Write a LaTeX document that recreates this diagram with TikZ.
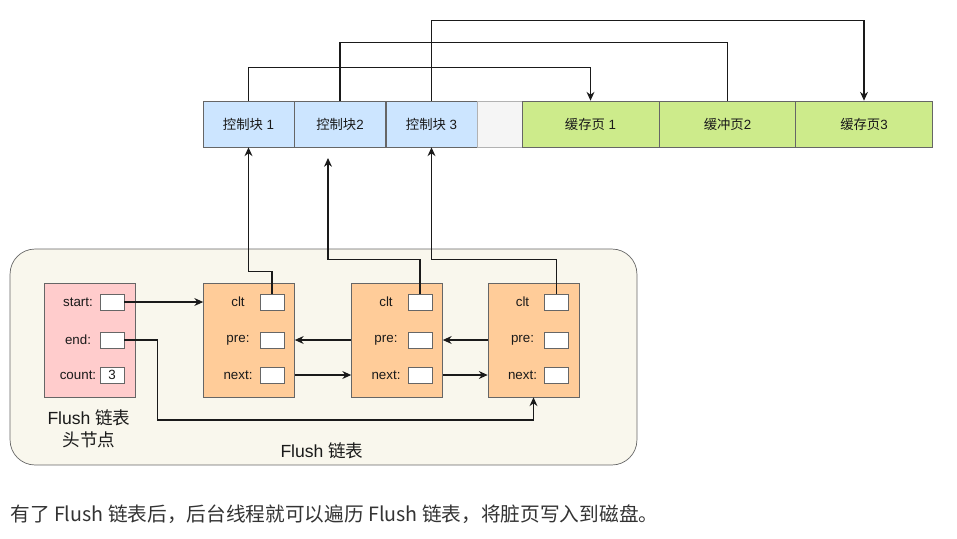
\documentclass[tikz,border=0pt]{standalone}
\usepackage{fontspec}
\setmainfont{Liberation Sans}
\newfontfamily\cjk{Noto Sans CJK SC}
\usetikzlibrary{arrows.meta,positioning}
\definecolor{ctlblue}{HTML}{CCE5FF}
\definecolor{pagegreen}{HTML}{CDEB8B}
\definecolor{gapgray}{HTML}{F5F5F5}
\definecolor{headpink}{HTML}{FFCCCC}
\definecolor{nodeorange}{HTML}{FFCC99}
\definecolor{cream}{HTML}{F9F7ED}
\definecolor{linegray}{HTML}{666666}
\definecolor{wirecol}{HTML}{1A1A1A}
\definecolor{capgray}{HTML}{333333}

\tikzset{
  cblock/.style={draw=linegray,fill=ctlblue,minimum width=1.82cm,minimum height=0.92cm,inner sep=0pt},
  cpage/.style={draw=linegray,fill=pagegreen,minimum width=2.74cm,minimum height=0.92cm,inner sep=0pt},
  lnode/.style={draw=linegray,minimum width=1.82cm,minimum height=2.28cm,inner sep=0pt},
  slot/.style={draw=linegray,fill=white,minimum width=0.48cm,minimum height=0.32cm,inner sep=0pt},
  wire/.style={->,line width=0.6pt,draw=wirecol},
  bigtext/.style={font=\fontsize{10}{12.5}\selectfont,align=center},
}

\begin{document}
\begin{tikzpicture}[x=0.02cm,y=-0.02cm,>={Stealth[length=5pt,width=4.5pt]},every node/.style={font=\fontsize{7.6}{9}\selectfont,text=wirecol}]
\useasboundingbox (0,0) rectangle (957,538);

% buffer pool: control blocks and cache pages
\node[cblock] (cb1) at (248.5,124) {{\cjk 控制块} 1};
\node[cblock] (cb2) at (340,124) {{\cjk 控制块}2};
\node[cblock] (cb3) at (431.5,124) {{\cjk 控制块} 3};
\node[draw=gray!60,fill=gapgray,minimum width=0.9cm,minimum height=0.92cm] (gap) at (499.5,124) {};
\node[cpage] (pg1) at (590.5,124) {{\cjk 缓存页} 1};
\node[cpage] (pg2) at (727.5,124) {{\cjk 缓冲页}2};
\node[cpage] (pg3) at (864,124) {{\cjk 缓存页}3};

\draw[wire] (cb1.north) -- ++(0,-33) -| (pg1.north);
\draw[line width=0.6pt,draw=wirecol] (cb2.north) -- ++(0,-58) -| (pg2.north);
\draw[wire] (cb3.north) -- ++(0,-80) -| (pg3.north);

% flush list
\node[draw=linegray,fill=cream,rounded corners=0.5cm,minimum width=12.54cm,minimum height=4.32cm] (flist) at (323.5,357) {};
\node[bigtext] (flbl) at (322,451) {Flush {\cjk 链表}};

% head node
\node[lnode,fill=headpink] (head) at (89.5,340) {};
\node (lstart) at (78,302) {start:};
\node[slot] (hstart) at (112,302) {};
\node (lend) at (78,340) {end:};
\node[slot] (hend) at (112,340) {};
\node (lcount) at (78,375) {count:};
\node[slot] (hcount) at (112,375) {3};
\node[bigtext] (hlbl) at (89,429) {Flush {\cjk 链表}\\{\cjk 头节点}};

% list nodes
\foreach \n/\x in {n1/249,n2/397,n3/533.5}{
  \node[lnode,fill=nodeorange] (\n) at (\x,340) {};
  \node at (\x-11,302) {clt};
  \node[slot] (\n clt) at (\x+23,302) {};
  \node at (\x-11,340) {pre:};
  \node[slot] (\n pre) at (\x+23,340) {};
  \node at (\x-11,375) {next:};
  \node[slot] (\n next) at (\x+23,375) {};
}

\draw[wire] (hstart.east) -- (hstart -| n1.west);
\draw[wire] (hend.east) -- ++(33,0) -- ++(0,80) -| (n3.south);
\draw[wire] (n1next -| n1.east) -- (n1next -| n2.west);
\draw[wire] (n2next -| n2.east) -- (n2next -| n3.west);
\draw[wire] (n2pre -| n2.west) -- (n2pre -| n1.east);
\draw[wire] (n3pre -| n3.west) -- (n3pre -| n2.east);

% clt pointers up to the control blocks
\coordinate (cb2tip) at (328,158);
\draw[wire] (n1clt.north) -- ++(0,-22) -| (cb1.south);
\draw[wire] (n2clt.north) -- ++(0,-34) -| (cb2tip);
\draw[wire] (n3clt.north) -- ++(0,-34) -| (cb3.south);

% caption
\node[anchor=west,font=\cjk\fontsize{11.2}{13}\selectfont,text=capgray,inner sep=0pt] (cap) at (10,514) {有了 Flush 链表后，后台线程就可以遍历 Flush 链表，将脏页写入到磁盘。};
\end{tikzpicture}
\end{document}
